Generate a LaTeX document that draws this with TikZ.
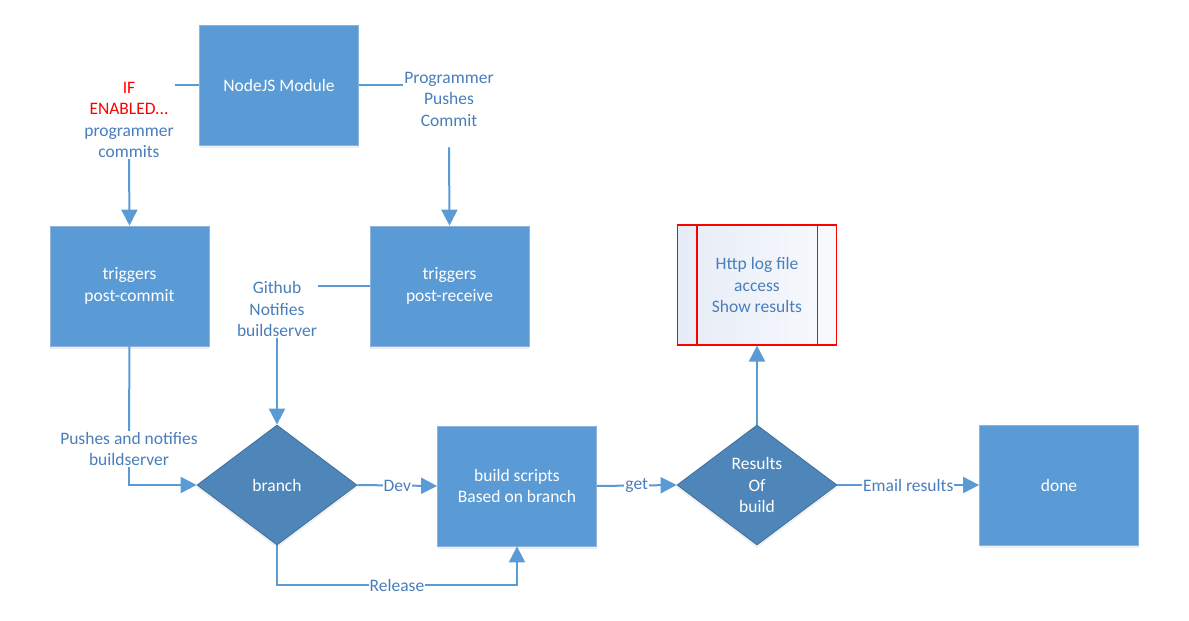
\documentclass[tikz,border=0pt]{standalone}
\usepackage{fontspec}
\setmainfont{Carlito}
\usetikzlibrary{arrows.meta,shapes.geometric,shadows}
\definecolor{boxblue}{HTML}{5B9BD5}
\definecolor{boxedge}{HTML}{8DB3E0}
\definecolor{diafill}{HTML}{4E86BA}
\definecolor{diaedge}{HTML}{41719C}
\definecolor{linkblue}{HTML}{5B9BD5}
\definecolor{labelblue}{HTML}{4A7EBB}
\definecolor{alertred}{HTML}{FF0000}
\definecolor{paneltint}{HTML}{E6ECF6}
\definecolor{panellight}{HTML}{F8FAFD}

\begin{document}
\begin{tikzpicture}[x=1pt,y=-1pt,
  font=\fontsize{17.5}{21.5}\selectfont,
  every node/.style={align=center},
  softshadow/.style={drop shadow={shadow xshift=0pt,shadow yshift=-3pt,opacity=0.12}},
  process/.style={rectangle, fill=boxblue, draw=boxedge, line width=0.8pt,
    minimum width=159pt, minimum height=120pt, text=white, softshadow},
  decision/.style={diamond, fill=diafill, draw=diaedge, line width=0.8pt,
    minimum width=160pt, minimum height=120pt, inner sep=0pt, text=white, softshadow},
  logpanel/.style={rectangle, draw=alertred, line width=1.2pt,
    left color=paneltint, right color=panellight,
    minimum width=159pt, minimum height=120pt, text=labelblue},
  note/.style={text=labelblue, inner sep=1pt},
  flow/.style={draw=linkblue, line width=2pt},
  arr/.style={flow, -{Triangle[length=16pt,width=16pt]}},
  elabel/.style={fill=white, text=labelblue, inner sep=1pt},
]
\fill[white] (0,0) rectangle (1189,621);
\useasboundingbox (0,0) rectangle (1189,621);

% process boxes
\node[process] (nj) at (279,85) {NodeJS Module};
\node[process] (pc) at (129.5,286) {triggers\\post-commit};
\node[process] (pr) at (449.5,286) {triggers\\post-receive};
\node[process] (bs) at (517,486) {build scripts\\Based on branch};
\node[process] (dn) at (1059,485) {done};

% decisions
\node[decision] (br) at (277,485) {branch};
\node[decision] (rs) at (757,485) {Results\\Of\\build};

% log viewer (predefined process)
\node[logpanel] (hl) at (757,285) {Http log file\\access\\Show results};
\draw[alertred, line width=1.2pt] ([xshift=20pt]hl.north west) -- ([xshift=20pt]hl.south west);
\draw[alertred, line width=1.2pt] ([xshift=-20pt]hl.north east) -- ([xshift=-20pt]hl.south east);

% free-standing notes
\node[note] (ifl) at (129,120) {\textcolor{alertred}{IF}\\\textcolor{alertred}{ENABLED...}\\programmer\\commits};
\node[note] (pp) at (449,99) {Programmer\\Pushes\\Commit};
\node[note] (gh) at (277,309) {Github\\Notifies\\buildserver};
\node[note] (pn) at (129,449) {Pushes and notifies\\buildserver};

% connectors
\draw[flow] (ifl.east |- nj.west) -- (nj.west);
\draw[flow] (nj.east) -- (pp.west |- nj.east);
\draw[arr] (ifl.south) -- (pc.north);
\draw[arr] ([yshift=-20pt]pp.south) -- (pr.north);
\draw[flow] (gh.east |- pr.west) -- (pr.west);
\draw[arr] (gh.south) -- (br.north);
\draw[flow] (pc.south) -- (pn.north);
\draw[arr] (pn.south) |- (br.west);
\draw[arr] (br.east) -- node[elabel]{Dev} (bs.west);
\draw[arr] (br.south) -- ++(0,40) -| node[elabel,pos=0.25]{Release} (bs.south);
\draw[arr] (bs.east) -- node[elabel]{get} (rs.west);
\draw[arr] (rs.north) -- (hl.south);
\draw[arr] (rs.east) -- node[elabel]{Email results} (dn.west);
\end{tikzpicture}
\end{document}
